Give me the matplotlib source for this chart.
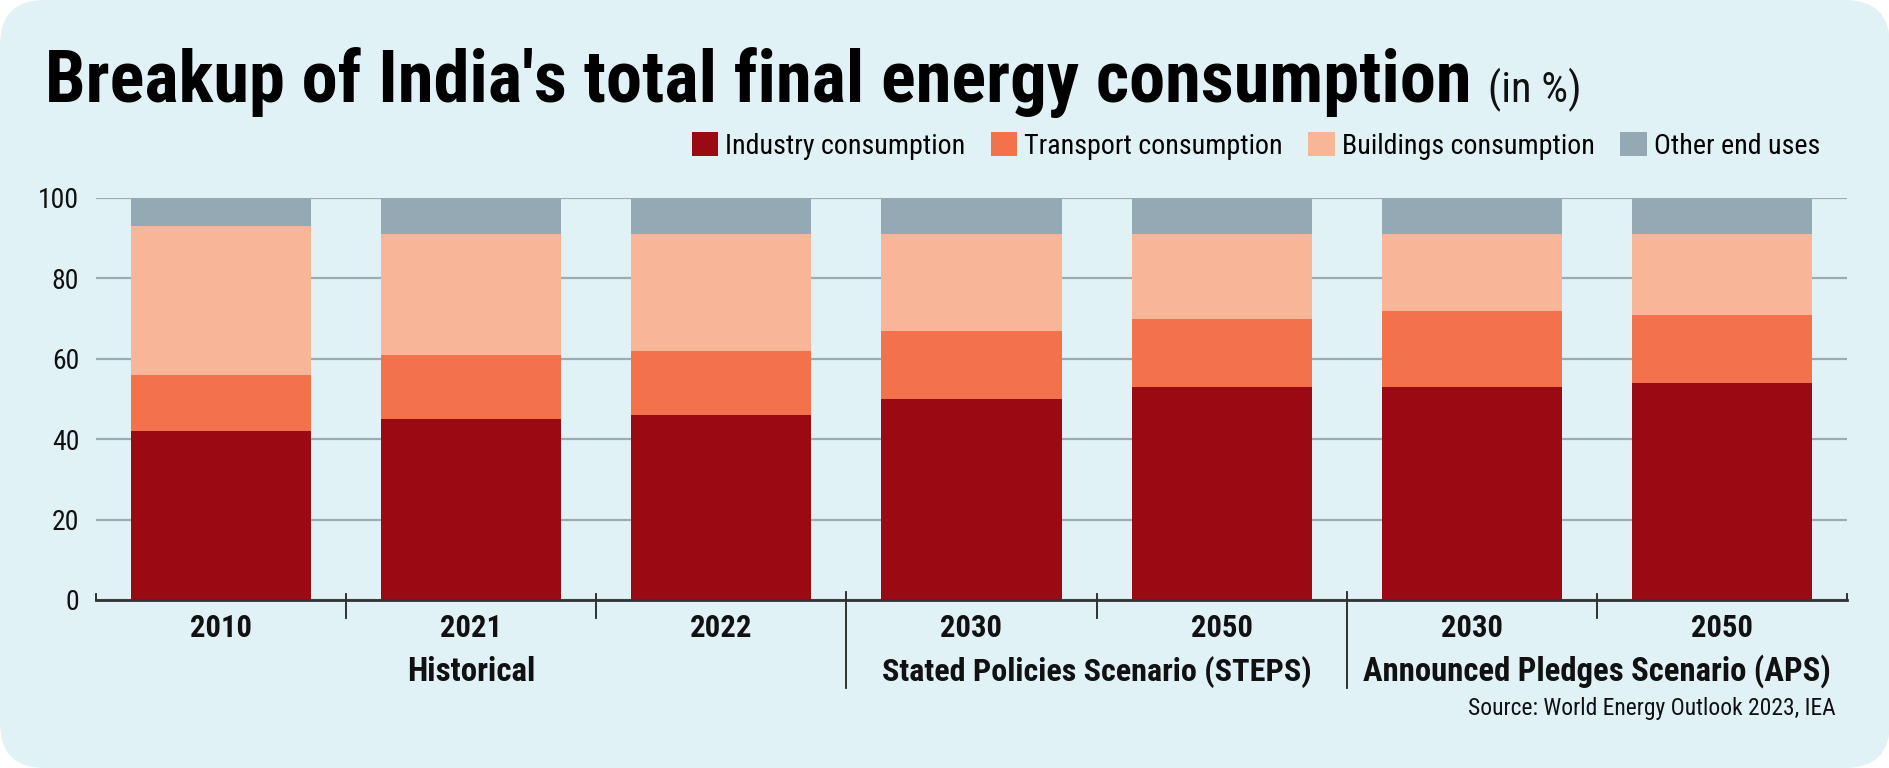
import matplotlib.pyplot as plt
from matplotlib.patches import FancyBboxPatch

# values (in %)
years = ['2010', '2021', '2022', '2030', '2050', '2030', '2050']
industry = [42, 45, 46, 50, 53, 53, 54]
transport = [14, 16, 16, 17, 17, 19, 17]
buildings = [37, 30, 29, 24, 21, 19, 20]
other = [7, 9, 9, 9, 9, 9, 9]

groups = ['Historical', 'Stated Policies Scenario (STEPS)', 'Announced Pledges Scenario (APS)']
group_pos = [1, 3.5, 5.5]

series_names = ['Industry consumption', 'Transport consumption',
                'Buildings consumption', 'Other end uses']
colors = ['#9b0913', '#f3714b', '#f9b597', '#95a9b5']
bg = '#e0f2f5'

plt.rcParams['font.family'] = ['Roboto Condensed', 'Roboto', 'DejaVu Sans']

W, H = 1890, 768
fig = plt.figure(figsize=(W / 100, H / 100), dpi=100)
fig.patch.set_facecolor('white')
fig.patches.append(FancyBboxPatch((0, 0), W / 100, H / 100,
                                  boxstyle='round,pad=0,rounding_size=0.45',
                                  transform=fig.dpi_scale_trans,
                                  facecolor=bg, edgecolor='none', zorder=-10))
renderer = fig.canvas.get_renderer()


def fit(t, width_px):
    # shrink/grow a text so it spans the width seen in the reference
    w = t.get_window_extent(renderer).width
    t.set_fontsize(t.get_fontsize() * width_px / w)


ax = fig.add_axes([96 / W, 1 - 600 / H, 1751 / W, 402 / H])
ax.set_facecolor('none')

x = list(range(len(years)))
bottom = [0] * len(years)
bars = []
for vals, c, name in zip([industry, transport, buildings, other], colors, series_names):
    b = ax.bar(x, vals, width=0.72, bottom=bottom, color=c, label=name, zorder=3)
    bars.append(b)
    bottom = [p + v for p, v in zip(bottom, vals)]

ax.set_xlim(-0.5, 6.5)
ax.set_ylim(0, 100)
ax.set_yticks([0, 20, 40, 60, 80, 100])
ax.yaxis.grid(True, color='#9eabb1', linewidth=1.6, zorder=0)
ax.tick_params(axis='y', length=0, pad=12, labelsize=20, colors='#111111')
ax.set_xticks([])
for s in ['top', 'right', 'left']:
    ax.spines[s].set_visible(False)
ax.spines['bottom'].set_color('#333333')
ax.spines['bottom'].set_linewidth(2)
ax.spines['bottom'].set_zorder(4)

# separators below the axis
xt = ax.get_xaxis_transform()
for sx in [0.5, 1.5, 3.5, 5.5]:
    ax.plot([sx, sx], [0.015, -0.045], transform=xt, color='#222222', lw=1.3, clip_on=False)
for sx in [2.5, 4.5]:
    ax.plot([sx, sx], [0.02, -0.219], transform=xt, color='#222222', lw=1.3, clip_on=False)
for sx in [-0.5, 6.5]:
    ax.plot([sx, sx], [0, 0.015], transform=xt, color='#222222', lw=1.3, clip_on=False)

for i, yr in enumerate(years):
    ty = ax.text(i, -0.07, yr, transform=xt, ha='center', va='center',
                 fontsize=22, fontweight='bold', color='#111111')
    fit(ty, 62)

group_w = [129, 431, 470]
for g, gx, gw in zip(groups, group_pos, group_w):
    tg = ax.text(gx, -0.178, g, transform=xt, ha='center', va='center',
                 fontsize=23, fontweight='bold', color='#111111')
    fit(tg, gw)

src = fig.text(1836 / W, 1 - 709 / H, 'Source: World Energy Outlook 2023, IEA',
               ha='right', va='center', fontsize=17, color='#111111')
fit(src, 368)

# title
t = fig.text(45 / W, 1 - 102 / H, "Breakup of India's total final energy consumption",
             ha='left', va='baseline', fontsize=52, fontweight='bold', color='#000000')
fit(t, 1426)
sub = fig.text(1488 / W, 1 - 102 / H, '(in %)', ha='left', va='baseline',
               fontsize=27, color='#111111')
fit(sub, 93)

leg_kw = dict(handles=bars, labels=series_names, loc='center right',
              bbox_to_anchor=(1820 / W, 1 - 146 / H), ncol=4, frameon=False,
              handlelength=0.95, handleheight=0.95, handletextpad=0.25,
              columnspacing=0.9, borderpad=0, borderaxespad=0)
leg = fig.legend(fontsize=20, **leg_kw)
lw = leg.get_window_extent(renderer).width
leg.remove()
fig.legend(fontsize=20 * 1127 / lw, **leg_kw)

fig.savefig('out.png', dpi=100, facecolor='white')
